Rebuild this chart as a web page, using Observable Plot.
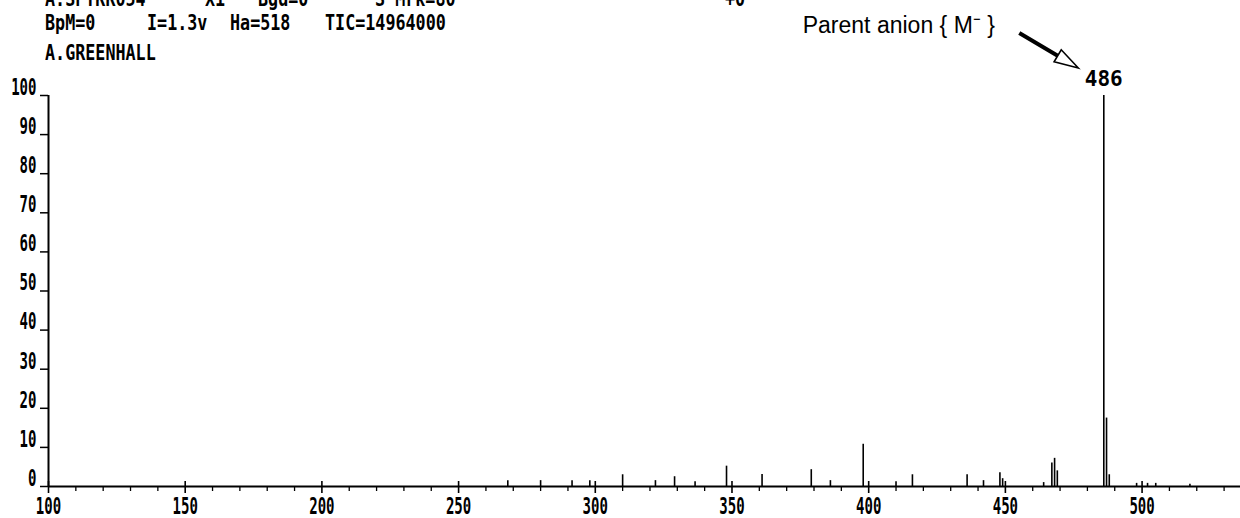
<!DOCTYPE html>
<html><head><meta charset="utf-8">
<script src="https://cdn.jsdelivr.net/npm/d3@7"></script>
<script src="https://cdn.jsdelivr.net/npm/@observablehq/plot@0.6"></script>
<style>
html,body{margin:0;padding:0;background:#fff;}
#wrap{position:relative;width:1240px;height:518px;overflow:hidden;}
.hdr{position:absolute;font-family:"DejaVu Sans Mono","Liberation Mono",monospace;font-weight:bold;font-size:22px;line-height:22px;color:#000;white-space:pre;transform:scaleX(0.76);transform-origin:0 0;}
#wrap svg{position:absolute;left:0;top:0;}
</style></head><body><div id="wrap"></div>
<script>
// ---- data ----
const headerRow1 = ["A:SPTKK054", "X1", "Bgd=0", "S Mrk=80", "+0"];
const headerRow2 = ["BpM=0", "I=1.3v", "Ha=518", "TIC=14964000"];
const operatorName = "A.GREENHALL";
const annotationLabel = "Parent anion { M\u207B }";
const xTicks = [100, 150, 200, 250, 300, 350, 400, 450, 500];
const xMinorTicks = [110,120,130,140,160,170,180,190,210,220,230,240,260,270,280,290,310,320,330,340,360,370,380,390,410,420,430,440,460,470,480,490,510,520,530];
const yTicks = [0, 10, 20, 30, 40, 50, 60, 70, 80, 90, 100];
const peakMz =        [268, 280, 291.5, 298, 310, 322, 329, 336.5, 348, 361, 379, 386, 398,  410, 416, 436, 442, 448, 449, 464, 467, 468, 469, 486, 487,  488, 498, 502, 505, 517.5];
const peakIntensity = [1.5, 1.5, 1.5,   1.5, 3.0, 1.5, 2.5, 1.2,   5.2, 3.1, 4.3, 1.5, 10.8, 1.2, 3.0, 3.0, 1.5, 3.5, 2.0, 1.0, 6.0, 7.2, 4.0, 100, 17.5, 3.0, 0.8, 0.8, 0.8, 0.6];
const basePeakMz = 486;

// ---- build table ----
const peaks = peakMz.map((mz, i) => ({mz, intensity: peakIntensity[i]}));
const basePeak = peaks.filter(d => d.mz === basePeakMz);

const plotFont = '"DejaVu Sans Mono","Liberation Mono",monospace';

const chart = Plot.plot({
  width: 1240,
  height: 518,
  marginLeft: 48,
  marginRight: 0,
  marginTop: 95,
  marginBottom: 32,
  x: {domain: [100, 536], label: null},
  y: {domain: [0, 100], label: null},
  style: {fontFamily: plotFont, fontSize: "23px", fontWeight: "bold", color: "#000", background: "transparent"},
  marks: [
    Plot.axisX({ticks: xMinorTicks, tickSize: 5, tickFormat: () => "", strokeWidth: 1.3, label: null}),
    Plot.axisX({ticks: xTicks, tickSize: 6, tickPadding: 4, strokeWidth: 1.6, fontSize: 23, dy: 1, label: null}),
    Plot.ruleX(xTicks, {x: d => d, y1: 0, y2: 0, insetTop: -5, stroke: "#000", strokeWidth: 1.6}),
    Plot.axisY({ticks: yTicks, tickSize: 8, tickFormat: () => "", strokeWidth: 1.5, label: null}),
    Plot.axisY({ticks: yTicks, tickSize: 0, tickPadding: 12, fontSize: 23, dy: -8, label: null}),
    Plot.ruleX([100], {stroke: "#000", strokeWidth: 2}),
    Plot.ruleY([0], {stroke: "#000", strokeWidth: 2}),
    Plot.ruleX(peaks, {x: "mz", y1: 0, y2: "intensity", stroke: "#000", strokeWidth: 1.6}),
    Plot.text(basePeak, {x: "mz", y: "intensity", text: d => String(d.mz), dy: -16, fontSize: 21, fontWeight: "bold", ariaLabel: "peak-label"}),
    Plot.text(basePeak, {x: "mz", y: "intensity", text: () => annotationLabel, dx: -205, dy: -70,
      fontFamily: '"Liberation Sans",Arial,sans-serif', fontWeight: "normal", fontSize: 23, letterSpacing: 1.3})
  ]
});

const wrap = document.getElementById("wrap");
wrap.appendChild(chart);
const svg = d3.select(chart);

// condense the plotter-style labels horizontally (keeps each anchor in place)
function condense(selector, s) {
  svg.selectAll(selector).each(function () {
    let t = this.getAttribute("transform") || "";
    const x = this.getAttribute("x");
    if (x != null && isFinite(+x)) {
      t += ` translate(${+x},0)`;
      this.removeAttribute("x");
    }
    this.setAttribute("transform", `${t} scale(${s},1)`);
  });
}
condense('g[aria-label="x-axis tick label"] text', 0.61);
condense('g[aria-label="y-axis tick label"] text', 0.61);
condense('g[aria-label="peak-label"] text', 0.74);

// arrow pointing at the base peak label (positions derived from the scales)
const px = chart.scale("x").apply(basePeakMz);
const py = chart.scale("y").apply(100);
const start = [px - 84, py - 62];
const tip = [px - 25, py - 27];
const vx = tip[0] - start[0], vy = tip[1] - start[1];
const len = Math.hypot(vx, vy);
const ux = vx / len, uy = vy / len;
const headLen = 24, halfW = 7;
const base = [tip[0] - headLen * ux, tip[1] - headLen * uy];
svg.append("line")
  .attr("x1", start[0]).attr("y1", start[1])
  .attr("x2", base[0]).attr("y2", base[1])
  .attr("stroke", "#000").attr("stroke-width", 4).attr("stroke-linecap", "butt");
svg.append("polygon")
  .attr("points", [
    tip,
    [base[0] - uy * halfW, base[1] + ux * halfW],
    [base[0] + uy * halfW, base[1] - ux * halfW]
  ].map(p => p.join(",")).join(" "))
  .attr("fill", "#fff").attr("stroke", "#000").attr("stroke-width", 1.6).attr("stroke-linejoin", "miter");

// header lines (plotter info block)
function addHdr(text, left, top) {
  const d = document.createElement("div");
  d.className = "hdr";
  d.textContent = text;
  d.style.left = left + "px";
  d.style.top = top + "px";
  wrap.appendChild(d);
}
const row1X = [45, 205, 258, 375, 725];
headerRow1.forEach((t, i) => addHdr(t, row1X[i], -12));
const row2X = [45, 147, 230, 325];
headerRow2.forEach((t, i) => addHdr(t, row2X[i], 12));
addHdr(operatorName, 45, 42);
</script>
</body></html>
